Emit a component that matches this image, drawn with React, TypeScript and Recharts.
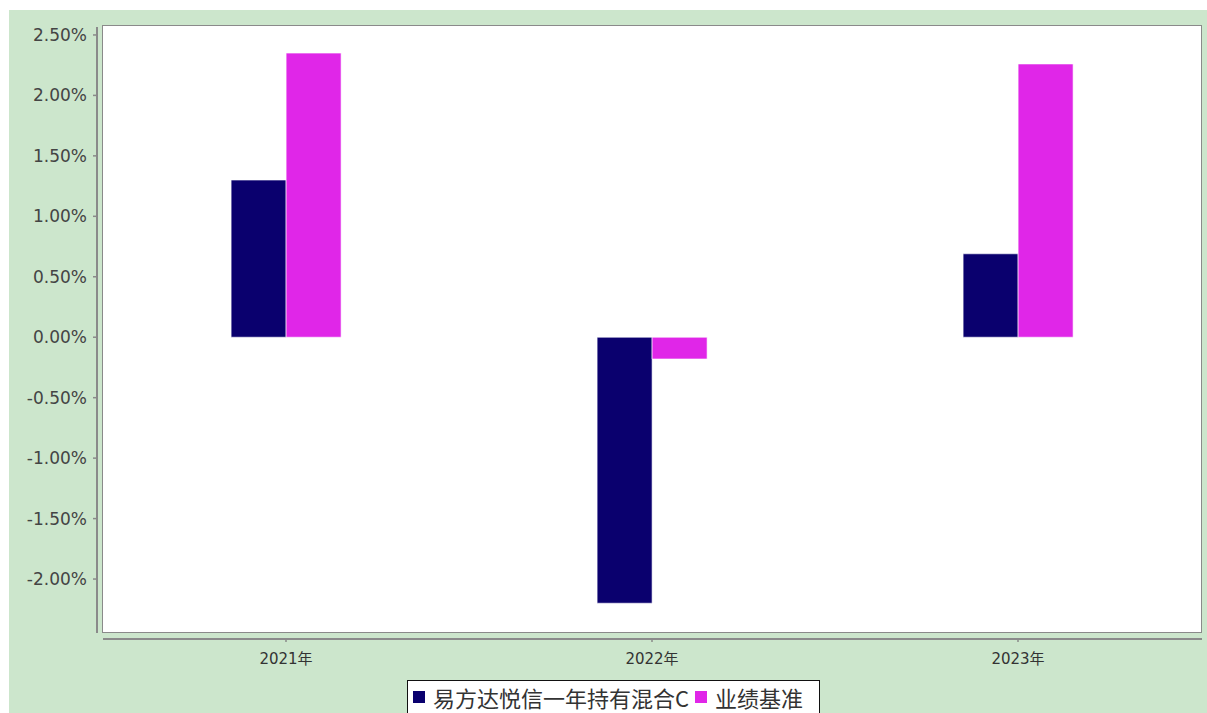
import React from 'react';
import { BarChart, Bar, XAxis, YAxis, CartesianGrid } from 'recharts';

const years = ['2021年', '2022年', '2023年'];
const fundValues = [1.3, -2.2, 0.69];
const benchValues = [2.35, -0.18, 2.26];
const yTicks = [-2, -1.5, -1, -0.5, 0, 0.5, 1, 1.5, 2, 2.5];
const seriesNames = ['易方达悦信一年持有混合C', '业绩基准'];
const seriesColors = ['#0a006e', '#e026e8'];

const data = years.map((year, i) => ({ year, fund: fundValues[i], bench: benchValues[i] }));

const W = 1207;
const H = 713;
const PLOT_LEFT = 103;
const PLOT_TOP = 26;
const PLOT_RIGHT = 1201;
const PLOT_BOTTOM = 632;
const AXIS_GRAY = '#8a8a8a';

const YTick = (props: any) => {
  const { y, payload } = props;
  return (
    <g>
      <line x1={PLOT_LEFT - 10} x2={PLOT_LEFT - 6} y1={y} y2={y} stroke={AXIS_GRAY} strokeWidth={1.5} />
      <text x={PLOT_LEFT - 16} y={y} textAnchor="end" dominantBaseline="central" fontSize={17} fill="#444" fontFamily="DejaVu Sans">
        {payload.value.toFixed(2) + '%'}
      </text>
    </g>
  );
};

const XTick = (props: any) => {
  const { x, payload } = props;
  const axisY = PLOT_BOTTOM + 7;
  return (
    <g>
      <line x1={x} x2={x} y1={axisY} y2={axisY + 3} stroke={AXIS_GRAY} strokeWidth={1.5} />
      <text x={x} y={axisY + 20} textAnchor="middle" dominantBaseline="central" fontSize={15} fill="#333" fontFamily="DejaVu Sans, 'Noto Sans CJK SC'">
        {payload.value}
      </text>
    </g>
  );
};

export default function App() {
  return (
    <div style={{ position: 'relative', width: W, height: H, background: '#fff', overflow: 'hidden' }}>
      <style>{'body{margin:0}'}</style>
      <div style={{ position: 'absolute', left: 9, top: 10, right: 0, bottom: 0, background: '#cce6cc' }} />
      <div style={{ position: 'absolute', left: 0, top: 0 }}>
        <BarChart
          width={W}
          height={H}
          data={data}
          margin={{ top: PLOT_TOP, right: W - PLOT_RIGHT, left: 0, bottom: H - PLOT_BOTTOM - 40 }}
          barCategoryGap="35%"
          barGap={0}
        >
          <CartesianGrid horizontal={false} vertical={false} fill="#ffffff" fillOpacity={1} />
          <XAxis dataKey="year" height={40} axisLine={false} tickLine={false} tick={<XTick />} interval={0} />
          <YAxis
            width={PLOT_LEFT}
            domain={[-2.438, 2.574]}
            ticks={yTicks}
            allowDataOverflow
            axisLine={false}
            tickLine={false}
            tick={<YTick />}
            interval={0}
          />
          <Bar dataKey="fund" fill={seriesColors[0]} stroke="#ffffff" strokeOpacity={0.6} isAnimationActive={false} />
          <Bar dataKey="bench" fill={seriesColors[1]} stroke="#ffffff" strokeOpacity={0.6} isAnimationActive={false} />
        </BarChart>
      </div>
      {/* plot frame */}
      <div
        style={{
          position: 'absolute',
          left: PLOT_LEFT - 1,
          top: PLOT_TOP - 1,
          width: PLOT_RIGHT - PLOT_LEFT,
          height: PLOT_BOTTOM - PLOT_TOP,
          border: `1.5px solid ${AXIS_GRAY}`,
          pointerEvents: 'none',
        }}
      />
      {/* y axis line */}
      <div style={{ position: 'absolute', left: PLOT_LEFT - 7, top: PLOT_TOP + 1, width: 2, height: PLOT_BOTTOM - PLOT_TOP, background: AXIS_GRAY }} />
      {/* x axis line */}
      <div style={{ position: 'absolute', left: PLOT_LEFT, top: PLOT_BOTTOM + 6, width: PLOT_RIGHT - PLOT_LEFT + 1, height: 2, background: AXIS_GRAY }} />
      {/* legend */}
      <div
        style={{
          position: 'absolute',
          left: 407,
          top: 680,
          width: 413,
          height: 40,
          border: '1.5px solid #111',
          background: '#fff',
          boxSizing: 'border-box',
          display: 'flex',
          alignItems: 'flex-start',
          paddingLeft: 5,
          paddingTop: 3,
          fontFamily: "'Noto Sans CJK SC', sans-serif",
          fontSize: 22,
          color: '#333',
          whiteSpace: 'nowrap',
        }}
      >
        {seriesNames.map((name, i) => (
          <span key={name} style={{ display: 'flex', alignItems: 'center', marginRight: 6, lineHeight: '26px' }}>
            <span style={{ display: 'inline-block', width: 12, height: 12, background: seriesColors[i], marginRight: 8 }} />
            {name}
          </span>
        ))}
      </div>
    </div>
  );
}
